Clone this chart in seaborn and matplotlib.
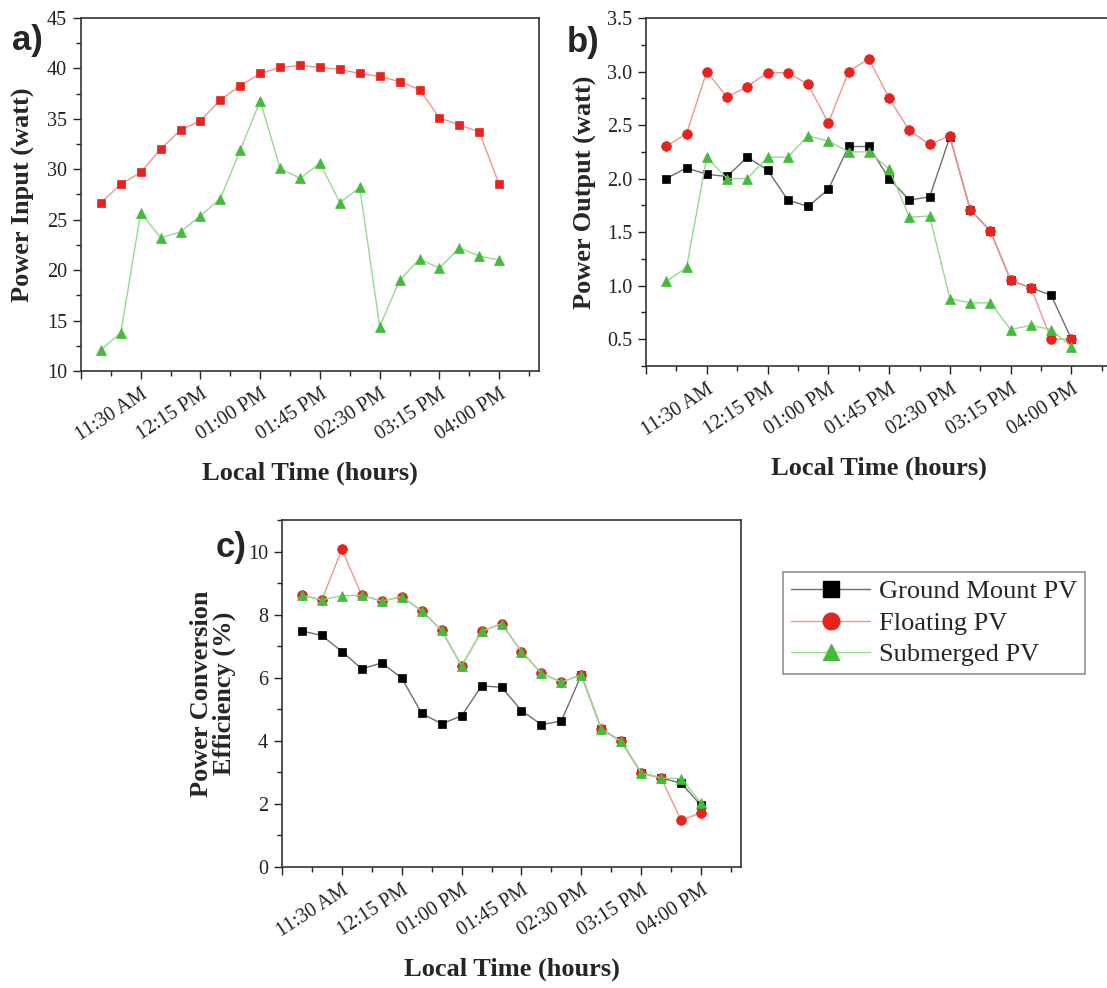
import numpy as np
import pandas as pd
import seaborn as sns
import matplotlib.pyplot as plt
from matplotlib.lines import Line2D
from matplotlib.ticker import MultipleLocator, FixedLocator

sns.set_style("ticks")
plt.rcParams['font.family'] = ['Liberation Serif', 'DejaVu Serif']
plt.rcParams['xtick.direction'] = 'out'
plt.rcParams['ytick.direction'] = 'out'

# 15 min readings, 11:00 AM .. 04:00 PM
step = list(range(21))
tick_pos = [2, 5, 8, 11, 14, 17, 20]
tick_lbl = ['11:30 AM', '12:15 PM', '01:00 PM', '01:45 PM', '02:30 PM', '03:15 PM', '04:00 PM']

# a) power input (watt)
floating_in = [26.7, 28.5, 29.7, 32.0, 33.9, 34.8, 36.9, 38.3, 39.5, 40.1, 40.3,
               40.1, 39.9, 39.5, 39.2, 38.7, 37.9, 35.1, 34.4, 33.7, 28.5]
submerged_in = [12.1, 13.8, 25.7, 23.2, 23.8, 25.4, 27.1, 31.9, 36.8, 30.1, 29.1,
                30.6, 26.7, 28.2, 14.4, 19.0, 21.1, 20.2, 22.2, 21.4, 21.0]

# b) power output (watt)
ground_out = [2.00, 2.10, 2.04, 2.02, 2.20, 2.08, 1.80, 1.74, 1.90, 2.30, 2.30,
              2.00, 1.80, 1.83, 2.39, 1.71, 1.51, 1.05, 0.98, 0.91, 0.50]
floating_out = [2.30, 2.42, 3.00, 2.76, 2.86, 2.99, 2.99, 2.88, 2.52, 3.00, 3.12,
                2.75, 2.45, 2.32, 2.40, 1.71, 1.51, 1.05, 0.98, 0.50, 0.50]
submerged_out = [1.04, 1.17, 2.20, 2.00, 2.00, 2.20, 2.20, 2.40, 2.35, 2.25, 2.25,
                 2.09, 1.64, 1.65, 0.88, 0.84, 0.84, 0.59, 0.63, 0.59, 0.43]

# c) power conversion efficiency (%)
ground_eff = [7.48, 7.34, 6.83, 6.28, 6.47, 5.99, 4.87, 4.54, 4.79, 5.74, 5.70,
              4.96, 4.51, 4.63, 6.09, 4.38, 3.98, 2.98, 2.82, 2.66, 1.95]
floating_eff = [8.61, 8.47, 10.07, 8.61, 8.43, 8.57, 8.12, 7.50, 6.37, 7.47, 7.71,
                6.83, 6.14, 5.86, 6.09, 4.38, 3.98, 2.98, 2.82, 1.48, 1.72]
submerged_eff = [8.61, 8.47, 8.60, 8.61, 8.43, 8.57, 8.12, 7.50, 6.37, 7.47, 7.71,
                 6.83, 6.14, 5.86, 6.09, 4.38, 3.98, 2.98, 2.82, 2.80, 2.03]

# (marker colour, line colour, marker, size)
sty = {
    'Ground Mount PV': ('#000000', '#6e6e6e', 's', 5.4),
    'Floating PV': ('#e8231e', '#f29590', 'o', 7.0),
    'Submerged PV': ('#45bb3e', '#93dc8d', '^', 6.5),
}

W, H = 1107, 988
fig = plt.figure(figsize=(W / 100, H / 100), dpi=100)


def box(l, t, r, b):
    return [l / W, 1 - b / H, (r - l) / W, (b - t) / H]


ax_a = fig.add_axes(box(81, 18, 539, 371))
ax_b = fig.add_axes(box(646, 18, 1112, 366))
ax_c = fig.add_axes(box(282, 520, 741, 867))


def draw(ax, name, vals, marker=None, size=None):
    mc, lc, mk, ms = sty[name]
    if marker is not None:
        mk = marker
    if size is not None:
        ms = size
    sns.lineplot(x=step, y=vals, ax=ax, color=lc, lw=1.0, marker=mk, ms=ms,
                 markerfacecolor=mc, markeredgecolor=mc, markeredgewidth=0.5,
                 label=name, legend=False)


draw(ax_a, 'Floating PV', floating_in, marker='s', size=6.3)
draw(ax_a, 'Submerged PV', submerged_in)

draw(ax_b, 'Ground Mount PV', ground_out)
draw(ax_b, 'Floating PV', floating_out)
draw(ax_b, 'Submerged PV', submerged_out)

draw(ax_c, 'Ground Mount PV', ground_eff)
draw(ax_c, 'Floating PV', floating_eff)
draw(ax_c, 'Submerged PV', submerged_eff)

ax_a.set_ylim(10, 45)
ax_a.yaxis.set_major_locator(MultipleLocator(5))
ax_a.yaxis.set_minor_locator(MultipleLocator(2.5))
ax_a.set_ylabel('Power Input (watt)')

ax_b.set_ylim(0.25, 3.5)
ax_b.yaxis.set_major_locator(FixedLocator([0.5, 1.0, 1.5, 2.0, 2.5, 3.0, 3.5]))
ax_b.yaxis.set_minor_locator(MultipleLocator(0.25))
ax_b.set_yticklabels(['0.5', '1.0', '1.5', '2.0', '2.5', '3.0', '3.5'])
ax_b.set_ylabel('Power Output (watt)')

ax_c.set_ylim(0, 11)
ax_c.yaxis.set_major_locator(FixedLocator([0, 2, 4, 6, 8, 10]))
ax_c.yaxis.set_minor_locator(MultipleLocator(1))
ax_c.set_ylabel('Power Conversion\nEfficiency (%)', linespacing=1.0)

for ax in (ax_a, ax_b, ax_c):
    ax.set_xlim(-1, 22)
    ax.xaxis.set_major_locator(FixedLocator([-1] + tick_pos + [23]))
    ax.set_xticklabels([''] + tick_lbl + [''], rotation=33, ha='right',
                       rotation_mode='anchor')
    ax.xaxis.set_minor_locator(FixedLocator(np.arange(0.5, 23, 3)))
    ax.set_xlabel('Local Time (hours)', fontsize=19, fontweight='bold', labelpad=12)
    ax.yaxis.label.set_fontsize(19)
    ax.yaxis.label.set_fontweight('bold')
    ax.tick_params(which='major', length=6, width=1.0, labelsize=14.5, colors='#222222',
                   pad=4)
    ax.tick_params(which='minor', length=3.5, width=1.0, colors='#222222')
    for s in ax.spines.values():
        s.set_linewidth(1.2)
        s.set_color('#333333')
    ax.set_facecolor('white')

ax_a.yaxis.set_label_coords(-0.10, 0.5)
ax_b.yaxis.set_label_coords(-0.105, 0.5)
ax_c.yaxis.set_label_coords(-0.10, 0.5)

fig.text(12 / W, 1 - 50 / H, 'a)', fontsize=25, fontweight='bold', family='Liberation Sans')
fig.text(567 / W, 1 - 52 / H, 'b)', fontsize=25, fontweight='bold', family='Liberation Sans')
fig.text(216 / W, 1 - 557 / H, 'c)', fontsize=25, fontweight='bold', family='Liberation Sans')

handles = []
for name, (mc, lc, mk, ms) in sty.items():
    handles.append(Line2D([0], [0], color=lc, lw=1.0, marker=mk, ms=12,
                          markerfacecolor=mc, markeredgecolor=mc, label=name))
leg = fig.legend(handles=handles, loc='upper left', bbox_to_anchor=(783 / W, 1 - 572 / H),
                 frameon=True, fancybox=False, fontsize=19, handlelength=3.0,
                 handletextpad=0.35, labelspacing=0.3, borderpad=0.3,
                 borderaxespad=0)
leg.get_frame().set_edgecolor('#777777')
leg.get_frame().set_linewidth(1.2)

fig.savefig('out.png', dpi=100, facecolor='white')
